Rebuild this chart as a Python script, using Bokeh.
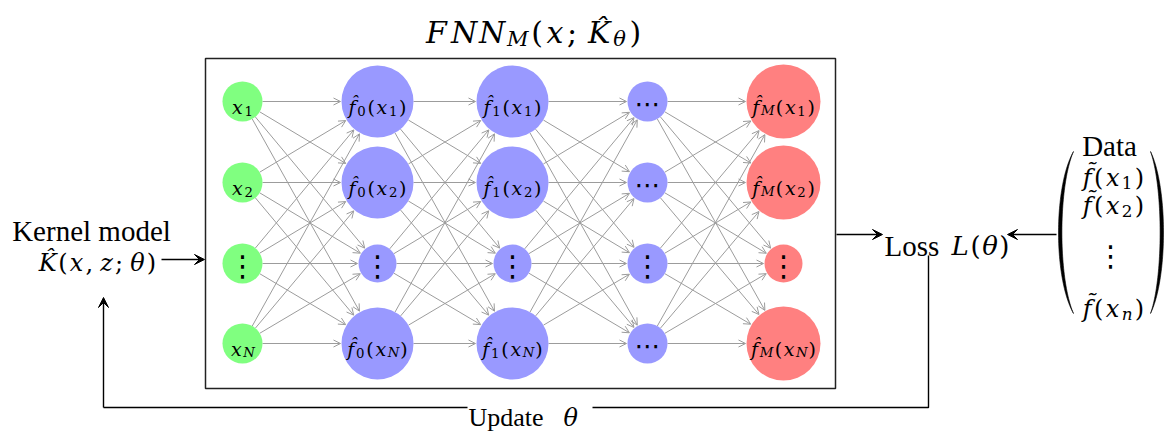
import numpy as np
from bokeh.plotting import figure
from bokeh.models import Range1d, Arrow, OpenHead, VeeHead, ColumnDataSource
from bokeh.core.properties import value, field
from bokeh.embed import file_html
from bokeh.resources import INLINE

# ---------------- data ----------------
layer_x = [242, 377, 512, 647, 783]          # column centres of the network layers
row_y = [101, 182, 263, 343]                 # row centres of the nodes
layer_colors = ["#80ff80", "#9999ff", "#9999ff", "#9999ff", "#ff8080"]
node_labels = [
    ["x_1", "x_2", "⋮", "x_N"],
    ["^f_0(x_1)", "^f_0(x_2)", "⋮", "^f_0(x_N)"],
    ["^f_1(x_1)", "^f_1(x_2)", "⋮", "^f_1(x_N)"],
    ["⋯", "⋯", "⋮", "⋯"],
    ["^f_M(x_1)", "^f_M(x_2)", "⋮", "^f_M(x_N)"],
]
node_radius = [
    [20, 20, 20, 20],
    [36, 36, 19, 36],
    [36, 36, 19, 36],
    [20, 20, 20, 20],
    [37, 37, 19, 37],
]
title_label = "FNN_M(x;\u2009^K_θ)"
kernel_words = "Kernel model"
kernel_math = "^K(x,\u2009z;\u2009θ)"
loss_word = "Loss"
loss_math = "L(θ)"
update_word = "Update"
update_math = "θ"
data_word = "Data"
data_entries = ["~f(x_1)", "~f(x_2)", "⋮", "~f(x_n)"]
data_rows = [177, 205, 253, 308]

# ---------------- layout / style ----------------
MATH = "DejaVu Serif"
TEXT = "Liberation Serif"
DOTS = "DejaVu Sans"
EDGE = "#9c9c9c"
BOX = dict(left=205, right=835, top=58, bottom=388)
WIDTH, HEIGHT = 1166, 434

W = {'f': 0.37, 'x': 0.56, 'z': 0.52, 'n': 0.64, 'K': 0.72, 'M': 0.99, 'N': 0.81,
     'F': 0.72, 'L': 0.67, 'θ': 0.60, '(': 0.39, ')': 0.39, ';': 0.34, ',': 0.32,
     '\u2009': 0.12, ' ': 0.32}

ital = dict(x=[], y=[], t=[], fs=[])
rom = dict(x=[], y=[], t=[], fs=[])
dots = dict(x=[], y=[], t=[], fs=[])


def parse(s):
    toks, i, sub = [], 0, False
    while i < len(s):
        c = s[i]
        if c == "_":
            sub = True
            i += 1
            continue
        acc = ""
        if c in "^~":
            acc = "\u0302" if c == "^" else "\u0303"
            i += 1
            c = s[i]
        toks.append((c, acc, sub))
        sub = False
        i += 1
    return toks


def adv(c):
    if c.isdigit():
        return 0.636
    return W.get(c, 0.6)


def place(s, x, base, size, align="center", track=0.09):
    toks = parse(s)
    ws = [adv(c) * size * (0.7 if sb else 1.0) for c, a, sb in toks]
    gap = track * size
    total = sum(ws) + gap * (len(toks) - 1)
    x0 = x - total / 2 if align == "center" else x
    for (c, a, sb), w in zip(toks, ws):
        rows = ital if c.isalpha() else rom
        rows["x"].append(x0)
        rows["y"].append(base + (0.22 * size if sb else 0))
        rows["t"].append(c + a)
        rows["fs"].append(f"{size * (0.7 if sb else 1.0):.1f}px")
        x0 += w + gap


def place_dots(s, x, cy):
    # the rendered ellipsis glyphs sit on (⋯) or straddle (⋮) their baseline
    size = 29 if s == "⋮" else 26
    dots["x"].append(x)
    dots["y"].append(cy + (2.5 if s == "⋮" else 2.0))
    dots["t"].append(s)
    dots["fs"].append(f"{size:.1f}px")


p = figure(width=WIDTH, height=HEIGHT, x_range=Range1d(0, WIDTH), y_range=Range1d(HEIGHT, 0),
           x_axis_type=None, y_axis_type=None, toolbar_location=None,
           output_backend="svg", min_border=0, outline_line_color=None)
p.xgrid.visible = False
p.ygrid.visible = False

# ---- edges between consecutive layers ----
ex0, ey0, ex1, ey1 = [], [], [], []
for L in range(len(layer_x) - 1):
    for i, yi in enumerate(row_y):
        for j, yj in enumerate(row_y):
            dx = layer_x[L + 1] - layer_x[L]
            dy = yj - yi
            d = np.hypot(dx, dy)
            ux, uy = dx / d, dy / d
            r0 = node_radius[L][i]
            r1 = node_radius[L + 1][j]
            ex0.append(layer_x[L] + ux * r0)
            ey0.append(yi + uy * r0)
            ex1.append(layer_x[L + 1] - ux * (r1 + 1))
            ey1.append(yj - uy * (r1 + 1))
esrc = ColumnDataSource(dict(x0=ex0, y0=ey0, x1=ex1, y1=ey1))
p.add_layout(Arrow(x_start="x0", y_start="y0", x_end="x1", y_end="y1", source=esrc,
                   line_color=EDGE, line_width=1, level="underlay",
                   end=OpenHead(size=7, line_color=EDGE, line_width=1)))

# ---- nodes ----
nx, ny, nr, nc = [], [], [], []
for L, lx in enumerate(layer_x):
    for i, yy in enumerate(row_y):
        nx.append(lx)
        ny.append(yy)
        nr.append(node_radius[L][i])
        nc.append(layer_colors[L])
        lab = node_labels[L][i]
        if lab in ("⋮", "⋯"):
            place_dots(lab, lx, yy)
        else:
            place(lab, lx, yy + 5, 19)
p.circle(x=nx, y=ny, radius=nr, fill_color=nc, line_color=None)

# ---- network box ----
p.quad(fill_color=None, line_color="#222222", line_width=1.5, **BOX)

# ---- title and side texts ----
place(title_label, 533, 32, 30, track=0.12)
place(kernel_math, 97, 262, 24)
place(loss_math, 951, 245, 26, align="left", track=0.06)
place(update_math, 563, 417, 24, align="left")
for s, yy in zip(data_entries, data_rows):
    if s == "⋮":
        place_dots(s, 1110, yy)
    else:
        place(s, 1113, yy, 24, track=0.1)

words = dict(x=[91, 884, 468, 1109], y=[230, 245, 417, 145],
             t=[kernel_words, loss_word, update_word, data_word],
             fs=["29px", "29px", "26px", "29px"],
             al=["center", "left", "left", "center"])
p.text(x="x", y="y", text="t", source=ColumnDataSource(words), text_font=value(TEXT),
       text_font_size=field("fs"), text_align=field("al"), text_baseline="alphabetic",
       text_color="black")

p.text(x="x", y="y", text="t", source=ColumnDataSource(ital), text_font=value(MATH),
       text_font_style="italic", text_font_size=field("fs"), text_align="left",
       text_baseline="alphabetic", text_color="black")
p.text(x="x", y="y", text="t", source=ColumnDataSource(rom), text_font=value(MATH),
       text_font_size=field("fs"), text_align="left", text_baseline="alphabetic",
       text_color="black")
p.text(x="x", y="y", text="t", source=ColumnDataSource(dots), text_font=value(DOTS),
       text_font_size=field("fs"), text_align="center", text_baseline="alphabetic",
       text_color="black")

# ---- matrix parentheses ----
def paren(x_end, top, bot, bulge, thick):
    t = np.linspace(0, 1, 60)
    h = bot - top
    def bez(xc):
        px = [x_end, xc, xc, x_end]
        py = [top, top + 0.22 * h, bot - 0.22 * h, bot]
        bx = ((1 - t) ** 3 * px[0] + 3 * (1 - t) ** 2 * t * px[1]
              + 3 * (1 - t) * t ** 2 * px[2] + t ** 3 * px[3])
        by = ((1 - t) ** 3 * py[0] + 3 * (1 - t) ** 2 * t * py[1]
              + 3 * (1 - t) * t ** 2 * py[2] + t ** 3 * py[3])
        return bx, by
    xo = x_end + bulge / 0.75
    xi = x_end + (bulge - np.sign(bulge) * thick) / 0.75
    ox, oy = bez(xo)
    ix, iy = bez(xi)
    return list(ox) + list(ix[::-1]), list(oy) + list(iy[::-1])

for xe, b in ((1073, -15), (1150, 13)):
    px_, py_ = paren(xe, 151, 313, b, 3.4)
    p.patch(px_, py_, fill_color="black", line_color="black", line_width=0.6)

# ---- black arrows and feedback path ----
def blk_arrow(x0, y0, x1, y1):
    p.add_layout(Arrow(x_start=x0, y_start=y0, x_end=x1, y_end=y1, line_color="black",
                       line_width=1.4,
                       end=VeeHead(size=10, fill_color="black", line_color="black")))

blk_arrow(161, 259, 204, 259)
blk_arrow(836, 234, 882, 234)
blk_arrow(1056, 234, 1007, 234)
p.line(x=[928, 928, 592], y=[255, 407, 407], line_color="black", line_width=1.4)
p.line(x=[467, 103], y=[407, 407], line_color="black", line_width=1.4)
blk_arrow(103, 407, 103, 297)

open("out.html", "w").write(file_html(p, INLINE))
